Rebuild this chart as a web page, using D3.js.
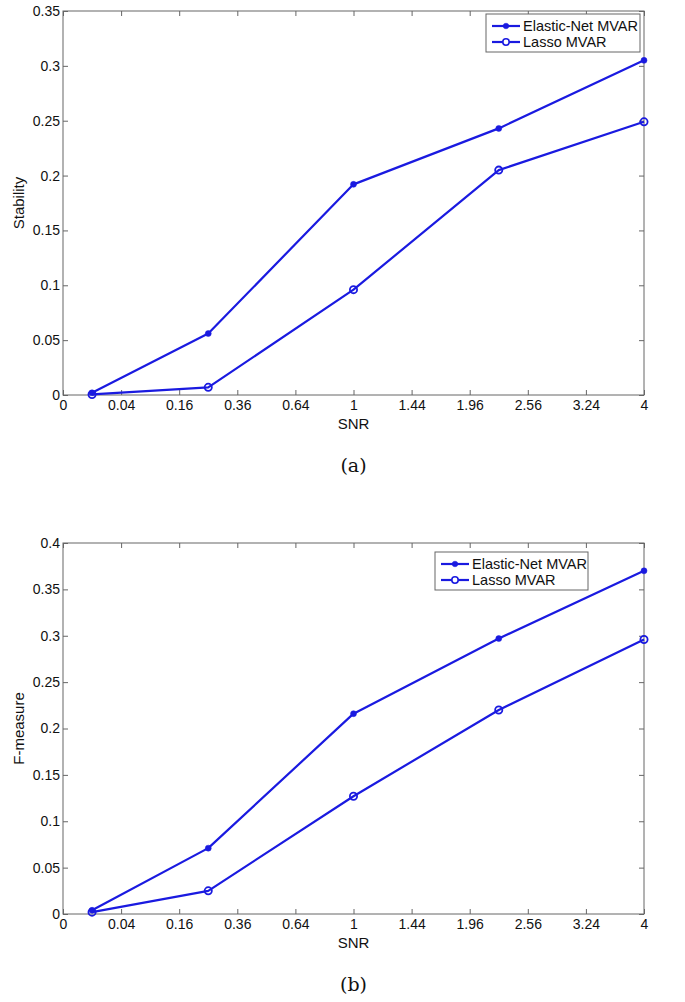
<!DOCTYPE html>
<html><head><meta charset="utf-8">
<script src="https://cdn.jsdelivr.net/npm/d3@7"></script>
<style>body{margin:0;background:#fff}svg{display:block}</style>
</head><body>
<script>
const snr = [0.01, 0.25, 1, 2.25, 4];
const xTicks = [0, 0.04, 0.16, 0.36, 0.64, 1, 1.44, 1.96, 2.56, 3.24, 4];
const stabilityElastic = [0.002, 0.056, 0.192, 0.243, 0.305];
const stabilityLasso = [0.0005, 0.007, 0.096, 0.205, 0.249];
const fElastic = [0.004, 0.071, 0.216, 0.297, 0.370];
const fLasso = [0.002, 0.025, 0.127, 0.220, 0.296];
const stabTicks = [0, 0.05, 0.1, 0.15, 0.2, 0.25, 0.3, 0.35];
const fTicks = [0, 0.05, 0.1, 0.15, 0.2, 0.25, 0.3, 0.35, 0.4];
const seriesNames = ["Elastic-Net MVAR", "Lasso MVAR"];

const W = 685, H = 1002;
const svg = d3.select("body").append("svg").attr("width", W).attr("height", H);
const blue = "#1a1ae0";
const axisCol = "#666";
const sans = "'Liberation Sans', Arial, Helvetica, sans-serif";

function panel(cfg) {
  const x = d3.scaleSqrt().domain([0, 4]).range([cfg.left, cfg.right]);
  const y = d3.scaleLinear().domain([0, cfg.ymax]).range([cfg.bottom, cfg.top]);
  const g = svg.append("g");
  const tl = 5;
  g.append("rect").attr("x", cfg.left).attr("y", cfg.top)
    .attr("width", cfg.right - cfg.left).attr("height", cfg.bottom - cfg.top)
    .attr("fill", "none").attr("stroke", axisCol).attr("stroke-width", 1);
  const xa = d3.axisBottom(x).tickValues(xTicks).tickSize(-tl).tickFormat(d => String(d));
  const xat = d3.axisTop(x).tickValues(xTicks).tickSize(-tl).tickFormat("");
  const ya = d3.axisLeft(y).tickValues(cfg.yTicks).tickSize(-tl).tickFormat(d => String(+d.toFixed(2)));
  const yar = d3.axisRight(y).tickValues(cfg.yTicks).tickSize(-tl).tickFormat("");
  function style(sel) {
    sel.select(".domain").remove();
    sel.selectAll(".tick line").attr("stroke", axisCol);
    sel.selectAll("text").attr("fill", "#111").style("font-family", sans).style("font-size", "14px");
  }
  g.append("g").attr("transform", `translate(0,${cfg.bottom})`).call(xa).call(style)
    .selectAll("text").attr("dy", "0.5em").attr("y", 8);
  g.append("g").attr("transform", `translate(0,${cfg.top})`).call(xat).call(style);
  g.append("g").attr("transform", `translate(${cfg.left},0)`).call(ya).call(style)
    .selectAll("text").attr("x", -3);
  g.append("g").attr("transform", `translate(${cfg.right},0)`).call(yar).call(style);

  g.append("text").attr("x", (cfg.left + cfg.right) / 2).attr("y", cfg.bottom + 34)
    .attr("text-anchor", "middle").style("font-family", sans)
    .style("font-size", "15px").attr("fill", "#111").text("SNR");
  g.append("text").attr("transform", `translate(${cfg.ylabX},${(cfg.top + cfg.bottom) / 2}) rotate(-90)`)
    .attr("text-anchor", "middle").style("font-family", sans)
    .style("font-size", "15px").attr("fill", "#111").text(cfg.ylabel);
  g.append("text").attr("x", (cfg.left + cfg.right) / 2).attr("y", cfg.captionY)
    .attr("text-anchor", "middle").style("font-family", "'DejaVu Serif', 'Liberation Serif', serif")
    .style("font-size", "19px").attr("fill", "#111").text(cfg.caption);

  const line = d3.line().x((d, i) => x(snr[i])).y(d => y(d));
  cfg.series.forEach((s, k) => {
    g.append("path").datum(s).attr("d", line).attr("fill", "none")
      .attr("stroke", blue).attr("stroke-width", 2.2).attr("stroke-linejoin", "round");
    g.selectAll(null).data(s).enter().append("circle")
      .attr("cx", (d, i) => x(snr[i])).attr("cy", d => y(d))
      .attr("r", k === 0 ? 3 : 3.6)
      .attr("fill", k === 0 ? blue : "none")
      .attr("stroke", blue).attr("stroke-width", k === 0 ? 0.5 : 1.8);
  });

  const L = cfg.legend;
  g.append("rect").attr("x", L.x).attr("y", L.y).attr("width", L.w).attr("height", L.h)
    .attr("fill", "#fff").attr("stroke", axisCol).attr("stroke-width", 1);
  seriesNames.forEach((n, k) => {
    const yy = L.y + 12 + k * 16;
    g.append("line").attr("x1", L.x + 6).attr("x2", L.x + 34).attr("y1", yy).attr("y2", yy)
      .attr("stroke", blue).attr("stroke-width", 2.2);
    g.append("circle").attr("cx", L.x + 20).attr("cy", yy).attr("r", k === 0 ? 2.8 : 3.2)
      .attr("fill", k === 0 ? blue : "#fff").attr("stroke", blue).attr("stroke-width", k === 0 ? 0.5 : 1.6);
    g.append("text").attr("x", L.x + 37).attr("y", yy + 5)
      .style("font-family", sans).style("font-size", "14.5px")
      .attr("fill", "#111").text(n);
  });
}

panel({left: 63, right: 644, top: 11, bottom: 395, ymax: 0.35, yTicks: stabTicks,
  ylabel: "Stability", ylabX: 24, caption: "(a)", captionY: 472,
  series: [stabilityElastic, stabilityLasso],
  legend: {x: 486, y: 14, w: 154, h: 38}});
panel({left: 63, right: 644, top: 543, bottom: 914, ymax: 0.4, yTicks: fTicks,
  ylabel: "F-measure", ylabX: 24, caption: "(b)", captionY: 991,
  series: [fElastic, fLasso],
  legend: {x: 435, y: 552, w: 153, h: 38}});
</script>
</body></html>
